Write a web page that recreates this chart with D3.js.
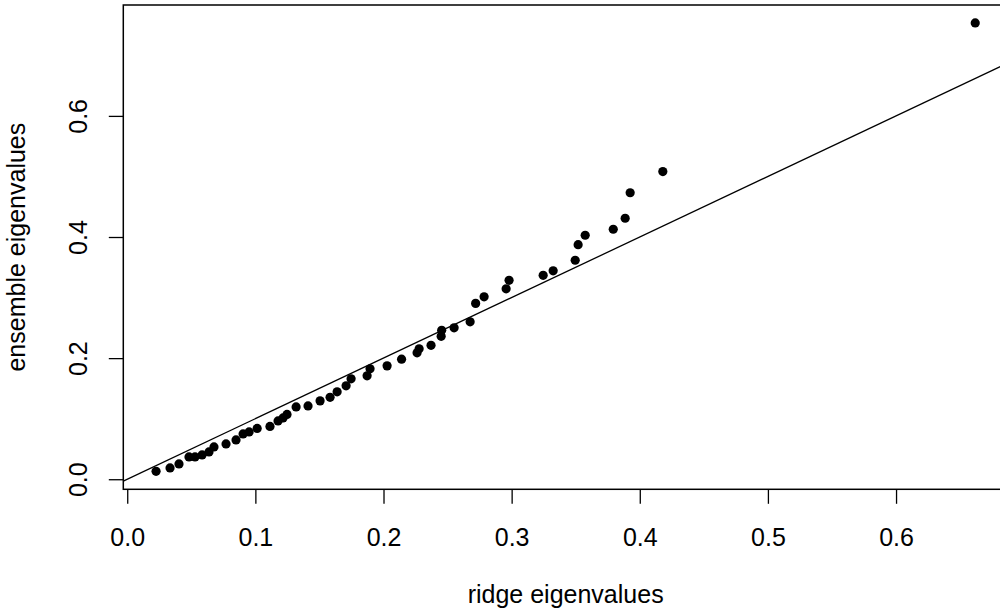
<!DOCTYPE html>
<html>
<head>
<meta charset="utf-8">
<script src="https://cdn.jsdelivr.net/npm/d3@7"></script>
<style>
  html, body { margin: 0; padding: 0; background: #fff; }
  svg { display: block; overflow: hidden; }
  text { font-family: "Liberation Sans", Arial, Helvetica, sans-serif; fill: #000; }
</style>
</head>
<body>
<svg id="chart" width="1000" height="614"></svg>
<script>
// ---- data ----
const ridge = [
  0.0225, 0.0334, 0.0404, 0.0482, 0.0529, 0.0584, 0.0638, 0.0677, 0.0771, 0.0849,
  0.0904, 0.0951, 0.1014, 0.1114, 0.1177, 0.1216, 0.1247, 0.1318, 0.1411, 0.1505,
  0.1583, 0.1638, 0.1708, 0.1747, 0.1872, 0.1895, 0.2028, 0.2141, 0.2262, 0.2278,
  0.2371, 0.2450, 0.2454, 0.2551, 0.2676, 0.2719, 0.2785, 0.2957, 0.2980, 0.3246,
  0.3324, 0.3496, 0.3519, 0.3574, 0.3793, 0.3886, 0.3925, 0.4180, 0.6618
];
const ensemble = [
  0.0130, 0.0186, 0.0252, 0.0369, 0.0369, 0.0402, 0.0451, 0.0534, 0.0583, 0.0649,
  0.0749, 0.0782, 0.0839, 0.0872, 0.0963, 0.1013, 0.1070, 0.1194, 0.1211, 0.1294,
  0.1352, 0.1443, 0.1542, 0.1658, 0.1707, 0.1823, 0.1872, 0.1983, 0.2087, 0.2153,
  0.2211, 0.2360, 0.2459, 0.2501, 0.2600, 0.2904, 0.3012, 0.3144, 0.3285, 0.3368,
  0.3442, 0.3616, 0.3873, 0.4029, 0.4128, 0.4310, 0.4731, 0.5080, 0.7535
];
const xTicks = [0.0, 0.1, 0.2, 0.3, 0.4, 0.5, 0.6];
const yTicks = [0.0, 0.2, 0.4, 0.6];
const xLabel = "ridge eigenvalues";
const yLabel = "ensemble eigenvalues";

// ---- layout ----
const svg = d3.select("#chart");
const plot = { left: 123.3, right: 1008, top: 5, bottom: 489.3 };
const fontSize = 25;
const tickLen = 14.5;

// R-style 4% range extension
function rExtent(vals) {
  const [a, b] = d3.extent(vals);
  const p = (b - a) * 0.04;
  return [a - p, b + p];
}

const x = d3.scaleLinear().domain(rExtent(ridge)).range([plot.left, plot.right]);
const y = d3.scaleLinear().domain(rExtent(ensemble)).range([plot.bottom, plot.top]);

const points = ridge.map((r, i) => ({ x: r, y: ensemble[i] }));

// clip
svg.append("defs").append("clipPath").attr("id", "clip")
  .append("rect")
  .attr("x", plot.left).attr("y", plot.top)
  .attr("width", plot.right - plot.left).attr("height", plot.bottom - plot.top);

// abline(0, 1)
const [dx0, dx1] = x.domain();
svg.append("line")
  .attr("clip-path", "url(#clip)")
  .attr("x1", x(dx0)).attr("y1", y(dx0))
  .attr("x2", x(dx1)).attr("y2", y(dx1))
  .attr("stroke", "#000").attr("stroke-width", 1.3);

// points
svg.append("g").attr("clip-path", "url(#clip)")
  .selectAll("circle").data(points).join("circle")
  .attr("cx", d => x(d.x)).attr("cy", d => y(d.y))
  .attr("r", 4.6).attr("fill", "#000");

// box
svg.append("rect")
  .attr("x", plot.left).attr("y", plot.top)
  .attr("width", plot.right - plot.left).attr("height", plot.bottom - plot.top)
  .attr("fill", "none").attr("stroke", "#000").attr("stroke-width", 1.5);

// x axis
const xAxis = d3.axisBottom(x).tickValues(xTicks).tickSize(tickLen).tickPadding(0)
  .tickFormat(d3.format(".1f"));
const gx = svg.append("g").attr("transform", `translate(0,${plot.bottom})`).call(xAxis);
gx.select(".domain").remove();
gx.selectAll(".tick line").attr("stroke", "#000").attr("stroke-width", 1.3);
gx.selectAll(".tick text")
  .attr("y", 56.5).attr("dy", null)
  .style("font-size", fontSize + "px")
  .style("font-family", '"Liberation Sans", Arial, sans-serif')
  .attr("fill", "#000");

// y axis
const yAxis = d3.axisLeft(y).tickValues(yTicks).tickSize(tickLen).tickFormat(d3.format(".1f"));
const gy = svg.append("g").attr("transform", `translate(${plot.left},0)`).call(yAxis);
gy.select(".domain").remove();
gy.selectAll(".tick line").attr("stroke", "#000").attr("stroke-width", 1.3);
gy.selectAll(".tick text")
  .attr("x", null).attr("dy", null)
  .attr("text-anchor", "middle")
  .attr("transform", "translate(-36.3,0) rotate(-90)")
  .style("font-size", fontSize + "px")
  .style("font-family", '"Liberation Sans", Arial, sans-serif')
  .attr("fill", "#000");

// axis titles
svg.append("text")
  .attr("x", (plot.left + plot.right) / 2).attr("y", 603.3)
  .attr("text-anchor", "middle")
  .style("font-size", fontSize + "px")
  .text(xLabel);

svg.append("text")
  .attr("transform", `translate(25,${(plot.top + plot.bottom) / 2}) rotate(-90)`)
  .attr("text-anchor", "middle")
  .style("font-size", fontSize + "px")
  .text(yLabel);
</script>
</body>
</html>
